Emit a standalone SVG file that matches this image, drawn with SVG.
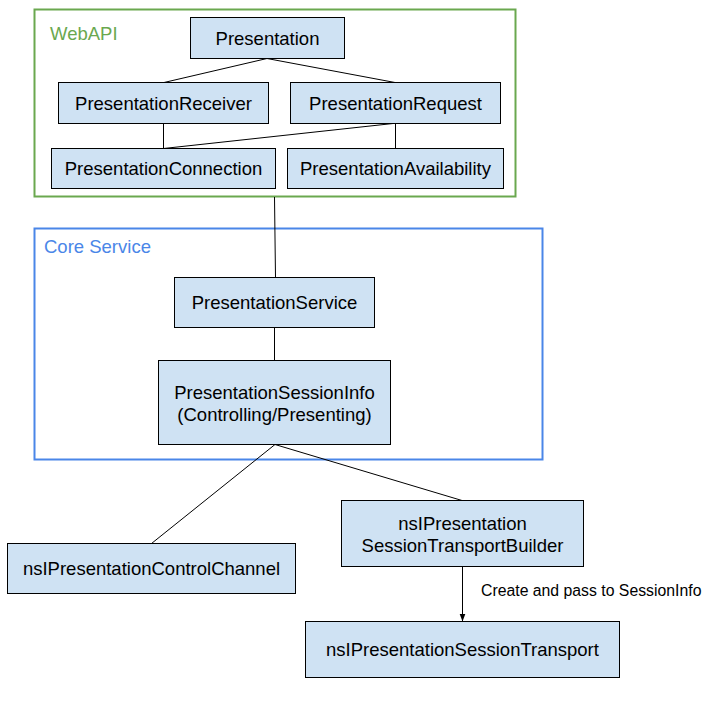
<svg xmlns="http://www.w3.org/2000/svg" width="719" height="704" viewBox="0 0 719 704">
<style>
.box{fill:#cfe2f3;stroke:#000;stroke-width:1}
.t{font-family:"Liberation Sans",Arial,sans-serif;font-size:18.5px;fill:#000;text-anchor:middle}
.lbl{font-family:"Liberation Sans",Arial,sans-serif;font-size:15.8px;fill:#000}
.c{stroke:#000;stroke-width:1;fill:none}
</style>
<defs>
<marker id="ah" viewBox="0 0 8 8" refX="8" refY="4" markerWidth="8" markerHeight="8" markerUnits="userSpaceOnUse" orient="auto">
<path d="M0,1 L8,4 L0,7 Z" fill="#000"/>
</marker>
</defs>
<rect width="719" height="704" fill="#fff"/>
<g id="webapi">
<rect x="34.5" y="9.5" width="481" height="187" fill="none" stroke="#6aa84f" stroke-width="2"/>
<text x="50" y="40" style="font-family:'Liberation Sans',Arial,sans-serif;font-size:18.5px;fill:#6aa84f">WebAPI</text>
</g>
<g id="coreservice">
<rect x="34.5" y="228.5" width="508" height="231" fill="none" stroke="#4a86e8" stroke-width="2"/>
<text x="44" y="253.3" style="font-family:'Liberation Sans',Arial,sans-serif;font-size:18.5px;fill:#4a86e8">Core Service</text>
</g>
<g id="connectors">
<line class="c" x1="267" y1="58.5" x2="164" y2="82.5"/>
<line class="c" x1="267" y1="58.5" x2="395" y2="82.5"/>
<line class="c" x1="163.5" y1="123.5" x2="163.5" y2="148.5"/>
<line class="c" x1="393" y1="123.5" x2="163.5" y2="148.5"/>
<line class="c" x1="395.5" y1="123.5" x2="395.5" y2="148.5"/>
<line class="c" x1="274.5" y1="197" x2="275.5" y2="277.5"/>
<line class="c" x1="274.5" y1="327.5" x2="274.5" y2="360.5"/>
<line class="c" x1="275" y1="444.5" x2="151.5" y2="543.5"/>
<line class="c" x1="275" y1="444.5" x2="462" y2="500.5"/>
<line class="c" x1="462.5" y1="566.5" x2="462.5" y2="621.5" marker-end="url(#ah)"/>
<text class="lbl" x="481" y="596">Create and pass to SessionInfo</text>
</g>
<g id="presentation">
<rect class="box" x="190.5" y="17.5" width="154" height="41"/>
<text class="t" x="267.5" y="44.5">Presentation</text>
</g>
<g id="receiver">
<rect class="box" x="58.5" y="82.5" width="210" height="41"/>
<text class="t" x="163.5" y="109.5">PresentationReceiver</text>
</g>
<g id="request">
<rect class="box" x="290.5" y="82.5" width="210" height="41"/>
<text class="t" x="395.5" y="109.5">PresentationRequest</text>
</g>
<g id="connection">
<rect class="box" x="51.5" y="148.5" width="224" height="40"/>
<text class="t" x="163.5" y="175">PresentationConnection</text>
</g>
<g id="availability">
<rect class="box" x="287.5" y="148.5" width="216" height="40"/>
<text class="t" x="395.5" y="175">PresentationAvailability</text>
</g>
<g id="service">
<rect class="box" x="174.5" y="277.5" width="200" height="50"/>
<text class="t" x="274.5" y="309">PresentationService</text>
</g>
<g id="sessioninfo">
<rect class="box" x="158.5" y="360.5" width="232" height="84"/>
<text class="t" x="274.5" y="398.5">PresentationSessionInfo</text>
<text class="t" x="274.5" y="420.5">(Controlling/Presenting)</text>
</g>
<g id="controlchannel">
<rect class="box" x="7.5" y="543.5" width="288" height="50"/>
<text class="t" x="151.5" y="575">nsIPresentationControlChannel</text>
</g>
<g id="builder">
<rect class="box" x="341.5" y="500.5" width="242" height="66"/>
<text class="t" x="462.5" y="530">nsIPresentation</text>
<text class="t" x="462.5" y="551.5">SessionTransportBuilder</text>
</g>
<g id="transport">
<rect class="box" x="305.5" y="621.5" width="314" height="56"/>
<text class="t" x="462.5" y="656">nsIPresentationSessionTransport</text>
</g>
</svg>
